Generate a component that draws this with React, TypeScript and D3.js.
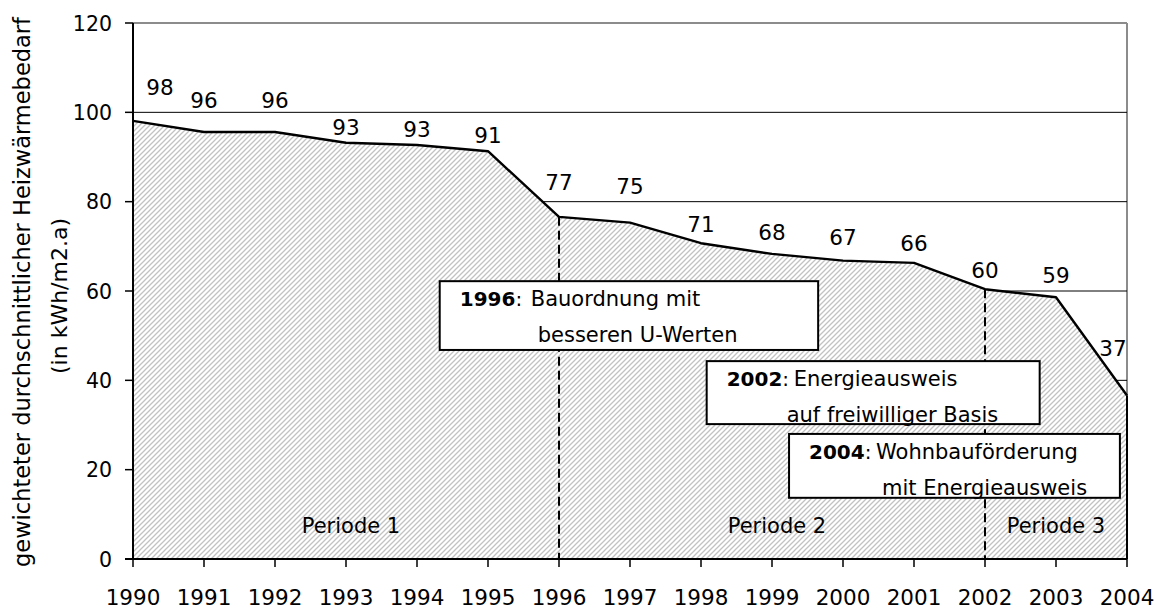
import React from 'react';
import * as d3 from 'd3';

const years = [1990, 1991, 1992, 1993, 1994, 1995, 1996, 1997, 1998, 1999, 2000, 2001, 2002, 2003, 2004];
const values = [98.1, 95.6, 95.6, 93.2, 92.7, 91.3, 76.6, 75.3, 70.7, 68.3, 66.8, 66.3, 60.4, 58.6, 36.6];
const yTicks = [0, 20, 40, 60, 80, 100, 120];
const milestoneYears = [1996, 2002];
const periodLabels = ['Periode 1', 'Periode 2', 'Periode 3'];
const periodYears = [1993.07, 1999.07, 2003.0];
const yTitle1 = 'gewichteter durchschnittlicher Heizwärmebedarf';
const yTitle2 = '(in kWh/m2.a)';

// label placement (pixels above each point, label centre)
const labelLift = [34, 32, 32, 16, 16, 16, 35, 37, 19, 22, 24, 20, 19, 22, 48];

const noteYears = ['1996', '2002', '2004'];
const noteLine1 = ['Bauordnung mit', 'Energieausweis', 'Wohnbauförderung'];
const noteLine2 = ['besseren U-Werten', 'auf freiwilliger Basis', 'mit Energieausweis'];
// box extents in data coordinates [x0, x1, yTop, yBottom]
const noteBoxes = [
  [1994.32, 1999.65, 62.2, 46.8],
  [1998.08, 2002.77, 44.3, 30.2],
  [1999.24, 2003.9, 28.0, 13.7],
];
const noteDesc1Dx = [91, 87, 87];
const noteDesc2Dx = [98, 80, 93];

const W = 1155;
const H = 611;
const X0 = 133;
const X1 = 1127;
const Y0 = 559;
const Y1 = 23;
const FONT = '"DejaVu Sans", sans-serif';
const FS = 21.5;
const FS_NOTE = 21;

export default function App() {
  const x = d3.scaleLinear().domain([1990, 2004]).range([X0, X1]);
  const y = d3.scaleLinear().domain([0, 120]).range([Y0, Y1]);
  const pts = years.map((yr, i) => [x(yr), y(values[i])] as [number, number]);
  const area = d3.area<[number, number]>().x(d => d[0]).y0(Y0).y1(d => d[1])(pts) || '';

  return (
    <svg width={W} height={H} style={{ position: 'absolute', left: 0, top: 0, background: '#fff' }} fontFamily={FONT}>
      <defs>
        <pattern id="hatch" patternUnits="userSpaceOnUse" width={5} height={5}>
          <rect width={5} height={5} fill="#fff" />
          <path d="M0,5 L5,0 M-1,1 L1,-1 M4,6 L6,4" stroke="#c2c2c2" strokeWidth={1.3} />
        </pattern>
      </defs>
      {/* plot border top/right */}
      <line x1={X0} x2={X1} y1={Y1} y2={Y1} stroke="#8c8c8c" strokeWidth={2} />
      <line x1={X1} x2={X1} y1={Y1} y2={Y0} stroke="#8c8c8c" strokeWidth={2} />
      {/* gridlines */}
      {yTicks.filter(t => t > 0 && t < 120).map(t => (
        <line key={t} x1={X0} x2={X1} y1={y(t)} y2={y(t)} stroke="#000" strokeWidth={1} />
      ))}
      {/* area */}
      <path d={area} fill="url(#hatch)" stroke="none" />
      <path d={d3.line()(pts) || ''} fill="none" stroke="#000" strokeWidth={2.4} strokeLinejoin="round" />
      <line x1={X1} x2={X1} y1={pts[pts.length - 1][1]} y2={Y0} stroke="#000" strokeWidth={2} />
      {/* milestone dashed lines */}
      {milestoneYears.map(yr => {
        const i = years.indexOf(yr);
        return (
          <line key={yr} x1={x(yr)} x2={x(yr)} y1={y(values[i])} y2={Y0} stroke="#000" strokeWidth={2} strokeDasharray="9,5" />
        );
      })}
      {/* axes */}
      <line x1={X0} x2={X0} y1={Y1} y2={Y0} stroke="#000" strokeWidth={2} />
      <line x1={X0 - 8} x2={X1} y1={Y0} y2={Y0} stroke="#000" strokeWidth={2} />
      {yTicks.map(t => (
        <g key={t}>
          <line x1={X0 - 8} x2={X0} y1={y(t)} y2={y(t)} stroke="#000" strokeWidth={1.5} />
          <text x={112} y={y(t) + 7.5} textAnchor="end" fontSize={20.5} fill="#000">{t}</text>
        </g>
      ))}
      {years.map(yr => (
        <g key={yr}>
          <line x1={x(yr)} x2={x(yr)} y1={Y0} y2={Y0 + 8} stroke="#000" strokeWidth={1.5} />
          <text x={x(yr)} y={605} textAnchor="middle" fontSize={FS} fill="#000">{yr}</text>
        </g>
      ))}
      {/* data labels */}
      {pts.map((p, i) => {
        const cx = Math.max(X0 + 27, Math.min(X1 - 14, p[0]));
        return (
          <text key={i} x={cx} y={p[1] - labelLift[i] + 8} textAnchor="middle" fontSize={FS} fill="#000">
            {Math.round(values[i])}
          </text>
        );
      })}
      {/* period labels */}
      {periodLabels.map((lab, i) => (
        <text key={lab} x={x(periodYears[i])} y={533} textAnchor="middle" fontSize={FS_NOTE} fill="#000">{lab}</text>
      ))}
      {/* notes */}
      {noteBoxes.map((b, i) => {
        const bx0 = x(b[0]);
        const bx1 = x(b[1]);
        const by0 = y(b[2]);
        const by1 = y(b[3]);
        return (
          <g key={i}>
            <rect x={bx0} y={by0} width={bx1 - bx0} height={by1 - by0} fill="#fff" stroke="#000" strokeWidth={2} />
            <text x={bx0 + 20} y={by0 + 25} fontSize={FS_NOTE - 1} fill="#000">
              <tspan fontWeight="bold">{noteYears[i]}</tspan>:
            </text>
            <text x={bx0 + noteDesc1Dx[i]} y={by0 + 25} fontSize={FS_NOTE} fill="#000">{noteLine1[i]}</text>
            <text x={bx0 + noteDesc2Dx[i]} y={by0 + 61} fontSize={FS_NOTE} fill="#000">{noteLine2[i]}</text>
          </g>
        );
      })}
      {/* y axis title */}
      <g transform="translate(30,292) rotate(-90)">
        <text x={0} y={0} textAnchor="middle" fontSize={22.5} fill="#000">{yTitle1}</text>
      </g>
      <g transform="translate(67,296) rotate(-90)">
        <text x={0} y={0} textAnchor="middle" fontSize={22} fill="#000">{yTitle2}</text>
      </g>
    </svg>
  );
}
